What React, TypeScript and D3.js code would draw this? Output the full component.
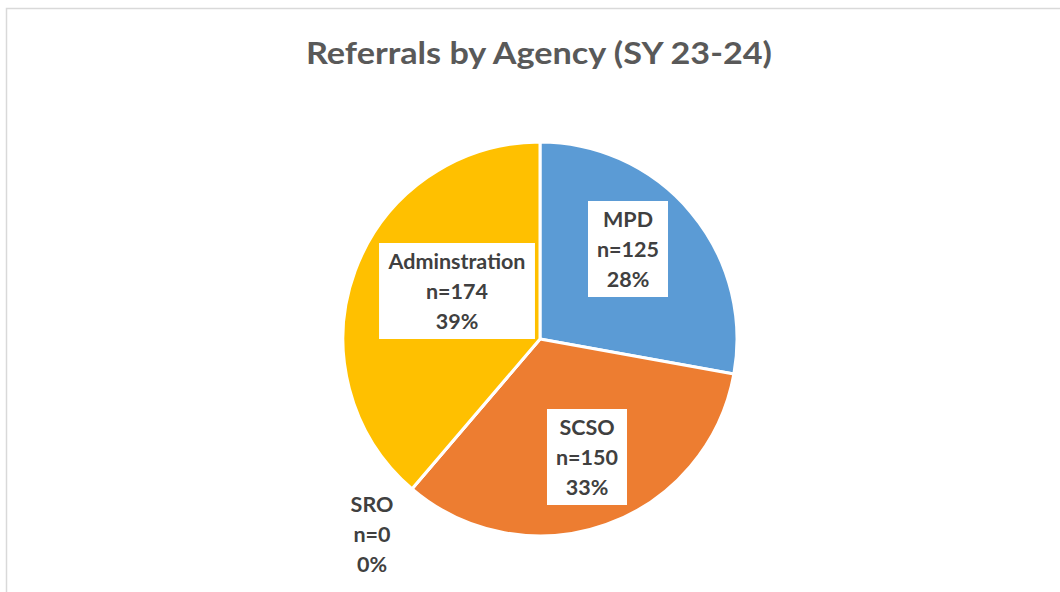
import React, { useEffect, useRef } from "react";
import * as d3 from "d3";

const categories = ["MPD", "SCSO", "SRO", "Adminstration"];
const counts = [125, 150, 0, 174];
const colors = ["#5B9BD5", "#ED7D31", "#A5A5A5", "#FFC000"];
const titleText = "Referrals by Agency (SY 23-24)";
// label centers (layout only), and whether label has a white box
const labelCenters: [number, number][] = [
  [628, 249],
  [587, 457],
  [372, 534],
  [457, 291],
];
const labelBoxed = [true, true, false, true];

const W = 1060;
const H = 592;
const CX = 540;
const CY = 339;
const R = 197;

export default function App() {
  const ref = useRef<SVGSVGElement>(null);
  useEffect(() => {
    const svg = d3.select(ref.current);
    svg.selectAll("*").remove();
    svg.append("rect").attr("x", 0).attr("y", 0).attr("width", W).attr("height", H).attr("fill", "#fff");
    svg
      .append("rect")
      .attr("x", 6.5)
      .attr("y", 8.5)
      .attr("width", W + 10)
      .attr("height", H + 10)
      .attr("fill", "#fff")
      .attr("stroke", "#d9d9d9")
      .attr("stroke-width", 1.5);

    svg
      .append("text")
      .attr("x", 539)
      .attr("y", 64)
      .attr("text-anchor", "middle")
      .attr("font-family", "Lato, sans-serif")
      .attr("font-weight", "bold")
      .attr("font-size", 31)
      .attr("textLength", 466)
      .attr("lengthAdjust", "spacingAndGlyphs")
      .attr("fill", "#595959")
      .text(titleText);

    const total = d3.sum(counts);
    const pie = d3.pie<number>().sort(null).value((d) => d)(counts);
    const arc = d3.arc<d3.PieArcDatum<number>>().innerRadius(0).outerRadius(R);
    const g = svg.append("g").attr("transform", `translate(${CX},${CY})`);
    g.selectAll("path")
      .data(pie)
      .join("path")
      .attr("d", arc)
      .attr("fill", (_, i) => colors[i])
      .attr("stroke", "#fff")
      .attr("stroke-width", 3)
      .attr("stroke-linejoin", "round");

    const lg = svg.append("g");
    categories.forEach((c, i) => {
      const [x, y] = labelCenters[i];
      const pct = Math.round((counts[i] / total) * 100);
      const lines = [c, `n=${counts[i]}`, `${pct}%`];
      const grp = lg.append("g");
      const rect = grp.append("rect").attr("fill", "#fff");
      const t = grp
        .append("text")
        .attr("text-anchor", "middle")
        .attr("font-family", "Lato, sans-serif")
        .attr("font-weight", "bold")
        .attr("font-size", 21.5)
        .attr("fill", "#404040");
      lines.forEach((l, k) => {
        t.append("tspan")
          .attr("x", x)
          .attr("y", y + (k - 1) * 30)
          .attr("dy", "0.35em")
          .text(l);
      });
      if (labelBoxed[i]) {
        const bb = (t.node() as SVGTextElement).getBBox();
        const padX = 9;
        rect
          .attr("x", x - bb.width / 2 - padX)
          .attr("y", y - 48)
          .attr("width", bb.width + padX * 2)
          .attr("height", 96);
      } else {
        rect.remove();
      }
    });
  }, []);
  return <svg ref={ref} width={W} height={H} style={{ display: "block", position: "absolute", left: 0, top: 0 }} />;
}
